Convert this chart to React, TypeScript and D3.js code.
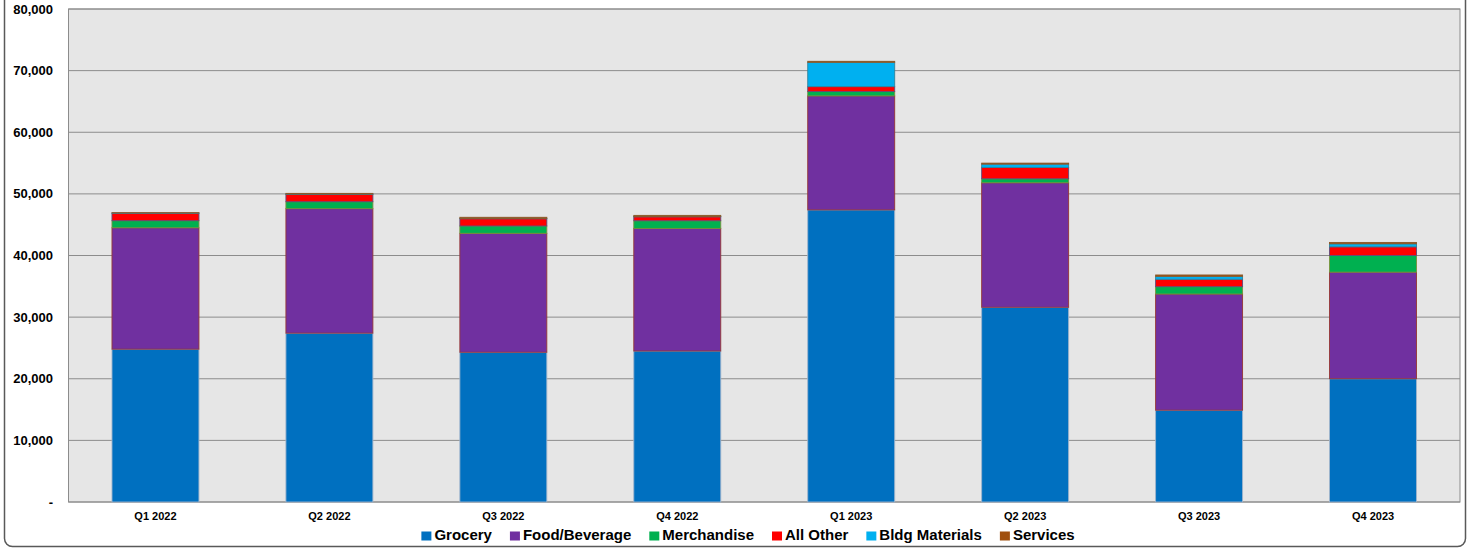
import React, { useEffect, useRef } from "react";
import * as d3 from "d3";

// Quarterly sales by category
const quarters = ["Q1 2022", "Q2 2022", "Q3 2022", "Q4 2022", "Q1 2023", "Q2 2023", "Q3 2023", "Q4 2023"];
const grocery = [24800, 27400, 24300, 24500, 47400, 31600, 14900, 20000];
const foodBeverage = [19700, 20200, 19300, 19900, 18500, 20200, 18850, 17300];
const merchandise = [1150, 1130, 1190, 1240, 700, 650, 1190, 2710];
const allOther = [1200, 1200, 1180, 650, 800, 1840, 1200, 1400];
const bldgMaterials = [50, 50, 50, 50, 3950, 540, 480, 490];
const services = [50, 100, 180, 170, 160, 160, 220, 220];

const seriesNames = ["Grocery", "Food/Beverage", "Merchandise", "All Other", "Bldg Materials", "Services"];
const seriesValues = [grocery, foodBeverage, merchandise, allOther, bldgMaterials, services];
const seriesFill = ["#0070C0", "#7030A0", "#00B050", "#FF0000", "#00B0F0", "#A0500F"];
const seriesStroke = ["#9FB4CC", "#953735", "#77933C", "#604A7B", "#31849B", "#8B5A2B"];

const yTicks = [0, 10000, 20000, 30000, 40000, 50000, 60000, 70000, 80000];

const W = 1472;
const H = 550;
const plot = { left: 68.5, right: 1460, top: 9, bottom: 502 };
const FONT = "'Liberation Sans', Arial, Helvetica, sans-serif";

export default function App() {
  const ref = useRef<SVGSVGElement | null>(null);

  useEffect(() => {
    const svg = d3.select(ref.current);
    svg.selectAll("*").remove();

    // Outer rounded chart frame
    svg
      .append("rect")
      .attr("x", 4.5)
      .attr("y", -12)
      .attr("width", 1461)
      .attr("height", 558.5)
      .attr("rx", 8)
      .attr("fill", "#ffffff")
      .attr("stroke", "#595959")
      .attr("stroke-width", 1.5);

    const x = d3
      .scaleBand<string>()
      .domain(quarters)
      .range([plot.left, plot.right])
      .paddingInner(0.5)
      .paddingOuter(0.25);

    const y = d3.scaleLinear().domain([0, 80000]).range([plot.bottom, plot.top]);

    // Plot area background
    svg
      .append("rect")
      .attr("x", plot.left)
      .attr("y", plot.top)
      .attr("width", plot.right - plot.left)
      .attr("height", plot.bottom - plot.top)
      .attr("fill", "#E6E6E6");

    // Horizontal gridlines
    svg
      .append("g")
      .selectAll("line")
      .data(yTicks)
      .join("line")
      .attr("x1", plot.left)
      .attr("x2", plot.right)
      .attr("y1", (d) => y(d))
      .attr("y2", (d) => y(d))
      .attr("stroke", "#8C8C8C")
      .attr("stroke-width", 1);

    // Plot border
    svg
      .append("rect")
      .attr("x", plot.left)
      .attr("y", plot.top)
      .attr("width", plot.right - plot.left)
      .attr("height", plot.bottom - plot.top)
      .attr("fill", "none")
      .attr("stroke", "#8C8C8C")
      .attr("stroke-width", 1);

    // Stacked bars
    const rows = quarters.map((q, i) => {
      const row: Record<string, number | string> = { quarter: q };
      seriesNames.forEach((s, k) => (row[s] = seriesValues[k][i]));
      return row;
    });
    const stacked = d3.stack<Record<string, number | string>>().keys(seriesNames)(rows as any);

    const bars = svg.append("g");
    stacked.forEach((layer, k) => {
      bars
        .append("g")
        .selectAll("rect")
        .data(layer)
        .join("rect")
        .attr("x", (d) => x(d.data.quarter as string)!)
        .attr("width", x.bandwidth())
        .attr("y", (d) => y(d[1]))
        .attr("height", (d) => Math.max(0, y(d[0]) - y(d[1])))
        .attr("fill", seriesFill[k])
        .attr("stroke", seriesStroke[k])
        .attr("stroke-width", 0.9);
    });

    // Y axis labels
    svg
      .append("g")
      .selectAll("text")
      .data(yTicks)
      .join("text")
      .attr("x", 53)
      .attr("y", (d) => y(d))
      .attr("dy", "0.35em")
      .attr("text-anchor", "end")
      .attr("font-family", FONT)
      .attr("font-weight", "bold")
      .attr("font-size", 13)
      .attr("fill", "#000")
      .text((d) => (d === 0 ? "-" : d3.format(",")(d)));

    // X axis labels
    svg
      .append("g")
      .selectAll("text")
      .data(quarters)
      .join("text")
      .attr("x", (d) => x(d)! + x.bandwidth() / 2)
      .attr("y", 520)
      .attr("text-anchor", "middle")
      .attr("font-family", FONT)
      .attr("font-weight", "bold")
      .attr("font-size", 11)
      .attr("fill", "#000")
      .text((d) => d);

    // Legend
    const legend = svg.append("g");
    const items = seriesNames.map((name, k) => {
      const g = legend.append("g");
      g.append("rect")
        .attr("x", 0)
        .attr("y", -8.5)
        .attr("width", 10)
        .attr("height", 9)
        .attr("fill", seriesFill[k]);
      const t = g
        .append("text")
        .attr("x", 13)
        .attr("y", 0)
        .attr("font-family", FONT)
        .attr("font-weight", "bold")
        .attr("font-size", 15)
        .attr("fill", "#000")
        .text(name);
      const w = 13 + (t.node() as SVGTextElement).getComputedTextLength();
      return { g, w };
    });
    const gap = 18;
    const total = d3.sum(items, (d) => d.w) + gap * (items.length - 1);
    let cx = 748 - total / 2;
    items.forEach((it) => {
      it.g.attr("transform", `translate(${cx},540)`);
      cx += it.w + gap;
    });
  }, []);

  return (
    <svg
      ref={ref}
      width={W}
      height={H}
      style={{ position: "absolute", left: 0, top: 0, background: "#ffffff" }}
    />
  );
}
